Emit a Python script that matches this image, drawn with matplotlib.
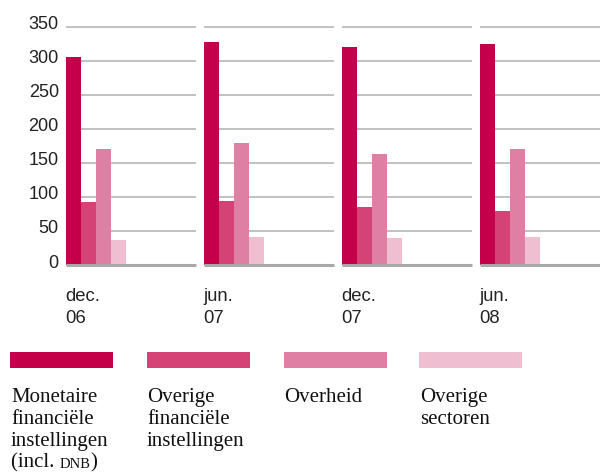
import matplotlib
matplotlib.use("Agg")
import matplotlib.pyplot as plt
import matplotlib.transforms as mtransforms
from matplotlib.patches import Rectangle

# ---- data ----
periods = ["dec.\n06", "jun.\n07", "dec.\n07", "jun.\n08"]
series_names = ["Monetaire\nfinanciële\ninstellingen", "Overige\nfinanciële\ninstellingen",
                "Overheid", "Overige\nsectoren"]
monetaire = [305, 327, 320, 325]
overige_fin = [93, 94, 85, 80]
overheid = [171, 179, 163, 171]
overige_sect = [37, 41, 39, 41]
yticks = [0, 50, 100, 150, 200, 250, 300, 350]
colors = ["#c4004a", "#d44276", "#e07fa4", "#f0bed1"]

series = [monetaire, overige_fin, overheid, overige_sect]

W, H = 600, 472
fig = plt.figure(figsize=(W / 100, H / 100), dpi=100)

# axes: x from 65.7px to 600px, y 0 at 265px, 350 at 26.7px
ax_left, ax_right = 65.7, 600
y0_px, ytop_px = 265, 26.7
ax = fig.add_axes([ax_left / W, 1 - y0_px / H, (ax_right - ax_left) / W, (y0_px - ytop_px) / H])
period_px = 138.0
seg_w = 130.0 / period_px
bar_w = 15.0 / period_px
ax.set_xlim(0, (ax_right - ax_left) / period_px)
ax.set_ylim(0, 350)
for s in ax.spines.values():
    s.set_visible(False)
ax.set_xticks([])

# gridlines per segment
for i in range(len(periods)):
    for t in yticks[1:]:
        ax.hlines(t, i, i + seg_w, color="#bcbcbc", lw=1.3, zorder=1, clip_on=False)
    ax.hlines(0, i, i + seg_w, color="#a9a9a9", lw=2.2, zorder=3, clip_on=False)

for j, vals in enumerate(series):
    xs = [i + (j + 0.5) * bar_w for i in range(len(periods))]
    ax.bar(xs, vals, width=bar_w, color=colors[j], zorder=2, linewidth=0)

ax.set_yticks(yticks)
ax.set_yticklabels([str(t) for t in yticks], fontsize=13, family="Liberation Sans", color="#222222")
ax.tick_params(axis="y", length=0, pad=5)
off = mtransforms.ScaledTranslation(0, 4 / 100, fig.dpi_scale_trans)
for lbl in ax.get_yticklabels():
    lbl.set_transform(lbl.get_transform() + off)

# period labels, under each group start
for i, p in enumerate(periods):
    x_px = ax_left + i * period_px
    for k, line in enumerate(p.split("\n")):
        fig.text(x_px / W, 1 - (300.7 + 22.6 * k) / H, line, ha="left", va="baseline",
                 fontsize=13.3, family="Liberation Sans", color="#222222")

# legend patches
patch_x = [10, 147, 284, 419]
for x, c in zip(patch_x, colors):
    fig.patches.append(Rectangle((x / W, 1 - 367.7 / H), 103 / W, 16 / H,
                                 transform=fig.transFigure, color=c, lw=0))

serif = "Liberation Serif"
text_x = [11, 147, 284, 420]
fs = 15
for x, name in zip(text_x, series_names):
    for k, line in enumerate(name.split("\n")):
        fig.text(x / W, 1 - (401.7 + 22 * k) / H, line, ha="left", va="baseline", fontsize=fs,
                 family=serif, color="#111111")

# "(incl. DNB)" with small caps
base_y = 1 - (401.7 + 22 * 3) / H
r = fig.canvas.get_renderer()
t1 = fig.text(11 / W, base_y, "(incl. ", ha="left", va="baseline", fontsize=fs,
              family=serif, color="#111111")
bb = t1.get_window_extent(renderer=r)
t2 = fig.text(bb.x1 / W, base_y, "DNB", ha="left", va="baseline", fontsize=10.5,
              family=serif, color="#111111")
bb2 = t2.get_window_extent(renderer=r)
fig.text(bb2.x1 / W, base_y, ")", ha="left", va="baseline", fontsize=fs,
         family=serif, color="#111111")

fig.savefig("out.png", dpi=100)
